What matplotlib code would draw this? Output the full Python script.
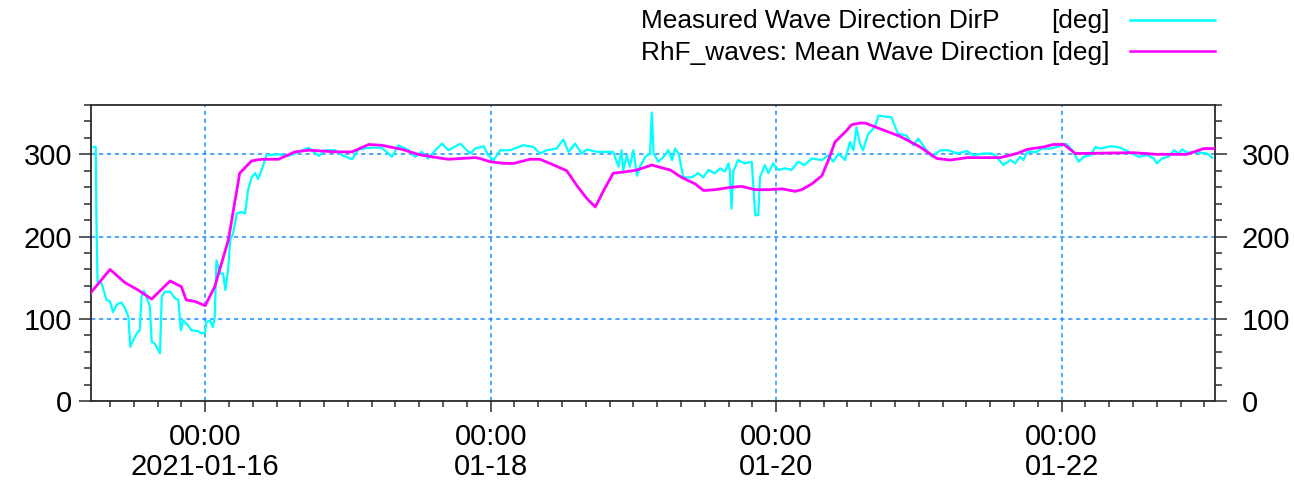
import matplotlib
matplotlib.use("Agg")
import matplotlib.pyplot as plt
import matplotlib.dates as mdates
from matplotlib.lines import Line2D
from matplotlib.ticker import MultipleLocator, FixedLocator, FixedFormatter
import pandas as pd

# ---- data: hours relative to 2021-01-16 00:00, direction in degrees ----
base_time = "2021-01-16 00:00"

measured_hours = [
    -18.8, -18.4, -18.3, -18.1, -17.4, -16.6, -16.0, -15.5, -14.9, -14.1,
    -13.5, -12.9, -12.6, -12.1, -11.5, -11.0, -10.7, -10.3, -9.9, -9.3,
    -9.0, -8.5, -7.6, -7.3, -6.8, -5.9, -5.1, -4.5, -4.1, -3.7,
    -2.9, -2.3, -1.2, -0.6, 0.0, 0.2, 0.8, 1.3, 1.6, 1.9,
    2.5, 3.0, 3.4, 3.9, 4.2, 4.7, 5.3, 6.1, 6.7, 7.2,
    7.8, 8.4, 8.9, 9.5, 10.3, 12.3, 14.0, 15.7, 17.4, 19.1,
    20.2, 21.9, 23.0, 24.7, 25.8, 27.5, 29.7, 31.4, 32.5, 34.2,
    35.3, 36.4, 37.5, 38.7, 39.8, 40.9, 42.9, 43.7, 44.6, 45.4,
    46.8, 47.6, 48.5, 49.6, 51.3, 53.5, 55.2, 56.3, 57.4, 59.1,
    60.2, 61.1, 62.2, 63.3, 64.2, 65.9, 67.5, 68.6, 69.5, 70.0,
    70.3, 70.9, 71.4, 72.0, 72.6, 73.1, 74.0, 74.8, 75.1, 75.4,
    76.2, 77.1, 77.9, 78.5, 79.0, 79.6, 80.4, 81.8, 82.9, 83.8,
    84.6, 85.7, 86.6, 87.4, 88.0, 88.2, 88.5, 88.8, 89.6, 90.7,
    91.9, 92.5, 93.0, 93.3, 94.1, 94.7, 95.5, 96.4, 97.5, 98.6,
    99.7, 100.8, 102.0, 103.7, 104.8, 105.6, 106.5, 107.6, 108.4, 109.0,
    109.5, 110.1, 110.6, 111.5, 112.6, 113.2, 115.4, 116.5, 117.9, 119.1,
    119.9, 121.3, 122.2, 123.6, 125.0, 126.4, 128.1, 129.2, 130.9, 132.3,
    133.1, 134.2, 135.4, 136.2, 137.0, 137.6, 138.2, 139.8, 140.7, 142.1,
    143.2, 144.8, 145.8, 146.9, 147.7, 148.9, 149.7, 150.6, 152.3, 153.9,
    155.3, 157.0, 158.4, 159.5, 160.0, 160.9, 162.0, 162.9, 163.7, 164.3,
    165.1, 166.2, 168.5, 169.3,
]
measured_dir = [
    309, 309, 226, 145, 143, 123, 121, 108, 117, 120,
    113, 102, 66, 74, 82, 86, 127, 134, 127, 115,
    72, 70, 58, 127, 133, 133, 125, 123, 86, 98,
    92, 86, 85, 82, 84, 96, 98, 90, 102, 171,
    155, 155, 135, 163, 196, 204, 228, 230, 228, 256,
    272, 277, 270, 281, 299, 300, 298, 303, 308, 298,
    305, 305, 299, 294, 306, 308, 308, 297, 311, 305,
    297, 303, 295, 305, 313, 305, 313, 307, 301, 307,
    310, 299, 293, 305, 305, 311, 309, 301, 305, 307,
    318, 303, 313, 301, 306, 303, 303, 303, 285, 305,
    281, 299, 285, 305, 274, 285, 297, 301, 351, 301,
    291, 297, 305, 293, 307, 301, 272, 272, 277, 272,
    281, 277, 283, 279, 289, 281, 234, 279, 293, 289,
    291, 226, 226, 272, 287, 277, 289, 281, 283, 281,
    291, 287, 295, 293, 299, 291, 301, 293, 315, 305,
    333, 313, 305, 325, 333, 347, 345, 325, 323, 311,
    319, 305, 297, 305, 305, 301, 304, 299, 301, 301,
    297, 287, 293, 289, 297, 293, 303, 303, 307, 307,
    309, 313, 305, 291, 297, 299, 309, 307, 310, 308,
    303, 297, 299, 295, 289, 295, 297, 305, 301, 306,
    302, 303, 301, 296,
]

model_hours = [
    -19.2, -16.0, -13.5, -11.3, -9.0, -5.9, -4.0, -3.2, -1.7, 0.0,
    1.6, 3.9, 5.8, 7.8, 9.5, 12.3, 15.1, 17.4, 21.9, 24.7,
    27.5, 29.7, 33.1, 35.8, 38.1, 40.9, 45.4, 46.2, 47.9, 50.2,
    51.9, 54.6, 56.3, 58.6, 60.8, 62.5, 64.2, 65.6, 67.0, 68.6,
    70.9, 72.6, 75.1, 77.1, 78.2, 80.1, 82.4, 83.8, 85.7, 88.5,
    90.2, 92.5, 94.7, 97.0, 99.2, 100.3, 102.0, 103.7, 104.8, 105.9,
    107.6, 108.7, 110.1, 111.0, 113.5, 116.8, 120.2, 123.0, 125.3, 128.1,
    133.7, 136.5, 138.2, 141.0, 142.6, 144.4, 146.3, 156.1, 160.0, 165.1,
    167.9, 169.8,
]
model_dir = [
    132, 160, 144, 135, 124, 146, 139, 123, 121, 116,
    139, 196, 277, 292, 294, 294, 303, 305, 303, 303,
    312, 311, 306, 300, 297, 294, 296, 295, 291, 289,
    289, 294, 294, 287, 280, 262, 246, 236, 256, 277,
    279, 281, 287, 283, 281, 272, 264, 256, 257, 260,
    261, 257, 257, 258, 255, 257, 264, 274, 293, 315,
    327, 336, 338, 338, 331, 322, 309, 295, 293, 296,
    296, 301, 306, 309, 312, 312, 301, 302, 300, 300,
    307, 307,
]

series_names = ["Measured Wave Direction DirP", "RhF_waves: Mean Wave Direction"]
series_units = ["[deg]", "[deg]"]
series_colors = ["#00FFFF", "#FF00FF"]

major_tick_dates = ["2021-01-16", "2021-01-18", "2021-01-20", "2021-01-22"]
major_tick_labels = ["00:00\n2021-01-16", "00:00\n01-18", "00:00\n01-20", "00:00\n01-22"]
x_start, x_end = "2021-01-15 04:48", "2021-01-23 01:48"
y_range = (0, 360)
y_major = [0, 100, 200, 300]

# ---- build the figure ----
plt.rcParams["font.family"] = ["Liberation Sans", "DejaVu Sans"]

W, H = 1294, 486
fig = plt.figure(figsize=(W / 100, H / 100), dpi=100)
left, right, top, bottom = 91, 1215, 105, 401
ax = fig.add_axes([left / W, 1 - bottom / H, (right - left) / W, (bottom - top) / H])

t0 = pd.Timestamp(base_time)
t_meas = t0 + pd.to_timedelta(measured_hours, unit="h")
t_model = t0 + pd.to_timedelta(model_hours, unit="h")

ax.plot(t_meas, measured_dir, color=series_colors[0], lw=1.6, zorder=3)
ax.plot(t_model, model_dir, color=series_colors[1], lw=2.0, zorder=4)

ax.set_xlim(pd.Timestamp(x_start), pd.Timestamp(x_end))
ax.set_ylim(*y_range)

# x axis: major ticks every two days, minor every four hours
ax.xaxis.set_major_locator(FixedLocator(mdates.date2num(pd.to_datetime(major_tick_dates))))
ax.xaxis.set_major_formatter(FixedFormatter(major_tick_labels))
ax.xaxis.set_minor_locator(mdates.HourLocator(byhour=range(0, 24, 4)))

# y axis: labelled every 100, minor every 20, mirrored on the right
ax.yaxis.set_major_locator(FixedLocator(y_major))
ax.yaxis.set_minor_locator(MultipleLocator(20))

edge = "#2b2b2b"
for s in ax.spines.values():
    s.set_color(edge)
    s.set_linewidth(1.3)

ax.tick_params(axis="x", which="major", direction="out", length=8, width=1.1,
               color=edge, labelsize=21, pad=8)
ax.tick_params(axis="x", which="minor", direction="out", length=4.3, width=1.1, color=edge)
ax.tick_params(axis="y", which="major", direction="out", length=8.6, width=1.1,
               color=edge, labelsize=21, pad=5, left=True, right=True,
               labelleft=True, labelright=False)
ax.tick_params(axis="y", which="minor", direction="out", length=5, width=1.1,
               color=edge, left=True, right=True)
for lab in ax.get_xticklabels():
    lab.set_linespacing(1.08)

ax2 = ax.twinx()
ax2.set_ylim(*y_range)
ax2.yaxis.set_major_locator(FixedLocator(y_major))
ax2.yaxis.set_minor_locator(MultipleLocator(20))
ax2.tick_params(axis="y", which="major", direction="out", length=8.6, width=1.1,
                color=edge, labelsize=21, pad=10.5)
ax2.tick_params(axis="y", which="minor", direction="out", length=5, width=1.1, color=edge)
for s in ax2.spines.values():
    s.set_visible(False)

ax.grid(which="major", color="#1E90FF", linestyle=(0, (2.8, 2.4)), linewidth=1.1)

# ---- legend in the top right: names, units column, line swatch ----
rows_y = [21, 53]
line_y = [20, 51]
for name, unit, color, ty, ly in zip(series_names, series_units, series_colors, rows_y, line_y):
    fig.text(641 / W, 1 - ty / H, name, fontsize=18.9, ha="left", va="center")
    fig.text(1110 / W, 1 - ty / H, unit, fontsize=18.9, ha="right", va="center")
    fig.add_artist(Line2D([1130 / W, 1215 / W], [1 - ly / H, 1 - ly / H],
                          transform=fig.transFigure, color=color, lw=1.8))

fig.savefig("out.png", dpi=100)
